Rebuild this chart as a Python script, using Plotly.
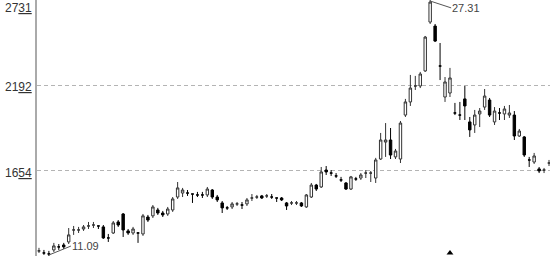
import plotly.graph_objects as go

opens = [11.54, 11.41, 11.35, 11.60, 11.79, 11.91, 12.10, 12.85, 12.85, 12.91,
         13.10, 13.16, 13.10, 13.04, 12.35, 12.66, 13.35, 13.85, 12.79, 12.66,
         12.66, 12.60, 13.66, 13.73, 14.10, 13.91, 13.85, 14.10, 14.91, 15.16,
         15.16, 15.10, 15.04, 15.04, 15.04, 15.35, 14.91, 14.54, 14.23, 14.29,
         14.48, 14.41, 14.48, 14.85, 14.91, 14.98, 14.98, 14.91, 14.85, 14.85,
         14.54, 14.54, 14.54, 14.54, 14.29, 14.91, 15.66, 15.54, 16.60, 16.41,
         16.23, 15.98, 15.79, 15.41, 16.04, 16.10, 16.41, 16.41, 16.10, 17.29,
         18.35, 18.48, 17.42, 17.29, 20.04, 20.86, 21.86, 21.86, 22.80, 25.86,
         25.61, 23.11, 21.17, 21.42, 20.17, 20.04, 21.05, 19.61, 19.42, 20.11,
         20.54, 20.98, 19.61, 20.17, 20.11, 20.04, 20.04, 18.73, 18.67, 17.23,
         17.10, 16.67, 16.60, 17.04]

closes = [11.54, 11.41, 11.35, 11.85, 11.79, 11.79, 12.54, 12.85, 12.85, 13.04,
          13.10, 13.16, 13.10, 12.35, 12.35, 13.29, 13.16, 12.85, 12.66, 12.91,
          12.66, 13.73, 13.47, 14.29, 13.91, 13.79, 14.16, 14.79, 15.48, 15.35,
          15.16, 15.10, 15.04, 15.04, 15.41, 14.91, 14.73, 14.23, 14.23, 14.48,
          14.48, 14.41, 14.73, 14.85, 14.91, 14.85, 14.98, 14.91, 14.85, 14.73,
          14.35, 14.54, 14.54, 14.35, 15.04, 15.66, 15.41, 16.48, 16.48, 16.41,
          16.23, 15.98, 15.41, 16.17, 16.04, 16.29, 16.41, 16.41, 17.23, 18.48,
          18.48, 17.54, 17.79, 19.54, 20.86, 21.73, 21.86, 22.61, 24.92, 27.11,
          24.67, 23.11, 22.11, 22.36, 20.17, 20.04, 20.61, 19.11, 20.04, 20.29,
          21.23, 20.04, 20.29, 20.17, 20.42, 20.17, 18.73, 19.04, 17.54, 17.23,
          17.48, 16.54, 16.60, 17.04]

highs = [11.73, 11.60, 11.54, 12.04, 11.97, 12.04, 12.97, 13.10, 13.04, 13.16,
         13.35, 13.35, 13.10, 13.16, 12.60, 13.41, 13.47, 13.91, 12.91, 13.04,
         12.72, 13.85, 13.79, 14.41, 14.23, 14.04, 14.29, 14.91, 15.85, 15.48,
         15.35, 15.10, 15.23, 15.23, 15.54, 15.41, 15.04, 14.66, 14.35, 14.60,
         14.60, 14.60, 14.85, 15.10, 15.04, 15.04, 15.10, 15.10, 14.85, 14.91,
         14.60, 14.66, 14.66, 14.60, 15.10, 15.79, 15.73, 16.79, 16.85, 16.60,
         16.41, 16.17, 15.85, 16.23, 16.17, 16.41, 16.60, 16.54, 17.36, 18.92,
         19.54, 19.23, 17.92, 19.67, 21.05, 22.55, 22.49, 22.74, 24.99, 27.31,
         25.74, 24.55, 22.42, 22.99, 20.80, 20.86, 21.86, 19.92, 20.36, 20.48,
         21.67, 21.11, 20.54, 20.48, 20.61, 20.67, 20.29, 19.17, 18.73, 17.42,
         17.67, 16.79, 16.73, 17.23]

lows = [11.41, 11.29, 11.09, 11.47, 11.60, 11.66, 11.97, 12.54, 12.66, 12.79,
        12.91, 12.97, 12.91, 12.29, 12.10, 12.60, 13.04, 12.41, 12.54, 12.54,
        12.04, 12.48, 13.35, 13.60, 13.79, 13.66, 13.73, 13.98, 14.79, 14.91,
        14.98, 14.54, 14.91, 14.85, 14.91, 14.79, 14.60, 13.91, 14.10, 14.16,
        14.35, 14.16, 14.35, 14.66, 14.79, 14.79, 14.85, 14.79, 14.60, 14.66,
        14.10, 14.41, 14.41, 14.29, 14.23, 14.85, 15.29, 15.48, 16.29, 16.23,
        16.10, 15.85, 15.35, 15.35, 15.92, 15.98, 16.10, 15.85, 15.79, 17.23,
        17.42, 17.29, 17.29, 17.04, 19.92, 20.61, 21.61, 21.73, 22.74, 25.74,
        24.61, 22.23, 20.86, 21.17, 20.04, 19.73, 19.73, 18.67, 18.92, 19.29,
        20.36, 19.92, 19.42, 19.73, 19.73, 19.86, 18.48, 18.67, 17.42, 16.79,
        16.98, 16.41, 16.41, 16.85]

x_index = list(range(len(opens)))

tick_values = [27.31, 21.92, 16.54]
tick_main = ["27", "21", "16"]
tick_decimals = ["31", "92", "54"]

peak_index, peak_value, peak_label = 79, 27.31, "27.31"
low_index, low_value, low_label = 2, 11.09, "11.09"
signal_index, signal_value = 83, 11.41

y_min, y_max = 11.22, 27.24


def to_paper(v):
    return (v - y_min) / (y_max - y_min)


fig = go.Figure()
fig.add_trace(go.Candlestick(
    x=x_index, open=opens, high=highs, low=lows, close=closes,
    increasing=dict(fillcolor="#ffffff", line=dict(color="#333333", width=1)),
    decreasing=dict(fillcolor="#000000", line=dict(color="#000000", width=1)),
    whiskerwidth=0, showlegend=False, hoverinfo="skip",
))
fig.add_trace(go.Scatter(
    x=[signal_index], y=[signal_value], mode="markers",
    marker=dict(symbol="triangle-up", size=6, color="#000000"),
    showlegend=False, hoverinfo="skip", cliponaxis=False,
))

fig.update_layout(
    width=550, height=256,
    margin=dict(l=37, r=0, t=0, b=0),
    paper_bgcolor="#ffffff", plot_bgcolor="#ffffff",
    font=dict(family="Arial, Liberation Sans, sans-serif", size=12, color="#333333"),
    xaxis=dict(range=[-0.4, 103.2], showgrid=False, zeroline=False,
               showticklabels=False, ticks="", rangeslider=dict(visible=False),
               showline=False),
    yaxis=dict(range=[y_min, y_max], tickvals=tick_values[1:], showticklabels=False,
               showgrid=True, gridcolor="#b4b4b4", gridwidth=1, griddash="4px,3px",
               zeroline=False, showline=True, linecolor="#aaaaaa", linewidth=1.5,
               ticks=""),
)

for i, (v, a, b) in enumerate(zip(tick_values, tick_main, tick_decimals)):
    txt = a + "<u>" + b + "</u>"
    if i == 0:
        fig.add_annotation(text=txt, xref="paper", yref="paper", x=0, y=1,
                           xanchor="right", yanchor="top", xshift=-3, yshift=1,
                           showarrow=False, font=dict(size=12, color="#333333"))
    else:
        fig.add_annotation(text=txt, xref="paper", yref="y", x=0, y=v,
                           xanchor="right", yanchor="middle", xshift=-3, yshift=-2,
                           showarrow=False, font=dict(size=12, color="#333333"))

fig.add_annotation(x=peak_index, xref="x", y=to_paper(peak_value), yref="paper",
                   text=peak_label, showarrow=True,
                   arrowhead=0, arrowwidth=1, arrowcolor="#555555",
                   ax=21, ay=9, xanchor="left", yanchor="middle",
                   font=dict(size=11, color="#444444"), borderpad=0)
fig.add_annotation(x=low_index, xref="x", y=to_paper(low_value), yref="paper",
                   text=low_label, showarrow=True,
                   arrowhead=0, arrowwidth=1, arrowcolor="#555555",
                   ax=22, ay=-12, xanchor="left", yanchor="middle",
                   font=dict(size=11, color="#444444"), borderpad=0)

fig.write_html("out.html")
